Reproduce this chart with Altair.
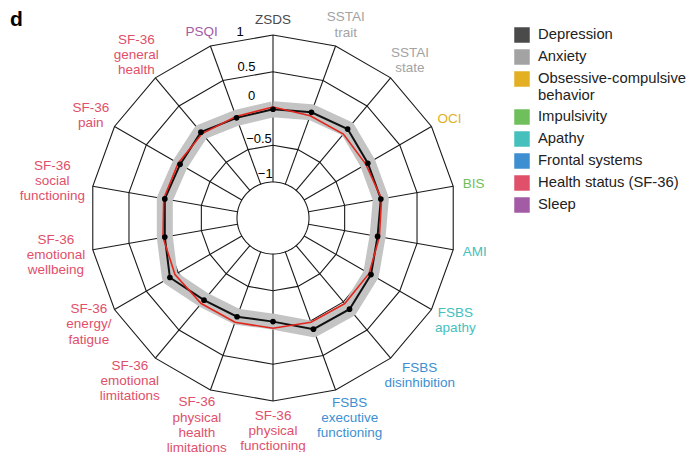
import math
import altair as alt
import pandas as pd

# ---------------- data ----------------
axis_labels = [
    "ZSDS", "SSTAI\ntrait", "SSTAI\nstate", "OCI", "BIS", "AMI",
    "FSBS\napathy", "FSBS\ndisinhibition", "FSBS\nexecutive\nfunctioning",
    "SF-36\nphysical\nfunctioning", "SF-36\nphysical\nhealth\nlimitations",
    "SF-36\nemotional\nlimitations", "SF-36\nenergy/\nfatigue",
    "SF-36\nemotional\nwellbeing", "SF-36\nsocial\nfunctioning",
    "SF-36\npain", "SF-36\ngeneral\nhealth", "PSQI",
]
axis_groups = [
    "Depression", "Anxiety", "Anxiety", "Obsessive-compulsive behavior",
    "Impulsivity", "Apathy", "Apathy", "Frontal systems", "Frontal systems",
    "Health status (SF-36)", "Health status (SF-36)", "Health status (SF-36)",
    "Health status (SF-36)", "Health status (SF-36)", "Health status (SF-36)",
    "Health status (SF-36)", "Health status (SF-36)", "Sleep",
]
black_values = [-0.01, 0.04, 0.09, 0.0, 0.0, -0.045, 0.05, 0.13, 0.12,
                -0.08, -0.06, -0.03, 0.13, 0.005, 0.005, -0.03, 0.035, -0.04]
red_values = [0.02, -0.01, 0.0, -0.03, 0.01, -0.02, 0.02, 0.03, 0.02,
              0.01, 0.02, 0.03, 0.05, 0.03, 0.02, 0.0, 0.01, -0.02]
grid_values = [-1, -0.5, 0, 0.5, 1]
tick_labels = ["\u22121", "\u22120.5", "0", "0.5", "1"]
group_names = ["Depression", "Anxiety", "Obsessive-compulsive behavior",
               "Impulsivity", "Apathy", "Frontal systems",
               "Health status (SF-36)", "Sleep"]
group_colors = ["#4a4a4a", "#a3a3a3", "#e3b023", "#6fbf5c", "#45c0bd",
                "#3d8fd1", "#e0506a", "#a35ba6"]

# ---------------- geometry helpers ----------------
R_PX = 183.0      # outer ring radius in pixels (data unit = 1)
HOLE_PX = 36.0    # radius of the central hole (value -1)
N = len(axis_labels)
LBL_FS = 13.5
LBL_LH = 15.3


def radius(v):
    h = HOLE_PX / R_PX
    return h + (v - grid_values[0]) / (grid_values[-1] - grid_values[0]) * (1 - h)


def angle(i):
    return 2 * math.pi * i / N


def xy(r, a):
    return r * math.sin(a), r * math.cos(a)


def text_w(s, fs):
    w = 0
    for c in s:
        if c in "il.,'-/ jtfr":
            w += 0.3
        elif c in "mwMW":
            w += 0.85
        elif c.isupper() or c.isdigit():
            w += 0.68
        else:
            w += 0.55
    return w * fs


# grid rings (polygons) and central circle
ring_rows = []
for v in grid_values:
    if v == grid_values[0]:
        m = 120
        for k in range(m + 1):
            x, y = xy(radius(v), 2 * math.pi * k / m)
            ring_rows.append({"ring": str(v), "k": k, "x": x, "y": y})
    else:
        for k in range(N + 1):
            x, y = xy(radius(v), angle(k % N))
            ring_rows.append({"ring": str(v), "k": k, "x": x, "y": y})
rings = pd.DataFrame(ring_rows)

spoke_rows = []
for i in range(N):
    x1, y1 = xy(radius(grid_values[0]), angle(i))
    x2, y2 = xy(radius(grid_values[-1]), angle(i))
    spoke_rows.append({"x": x1, "y": y1, "x2": x2, "y2": y2})
spokes = pd.DataFrame(spoke_rows)


def series_frame(vals):
    rows = []
    for k in range(N + 1):
        i = k % N
        x, y = xy(radius(vals[i]), angle(i))
        rows.append({"k": k, "x": x, "y": y, "axis": axis_labels[i].replace("\n", " "), "value": vals[i]})
    return pd.DataFrame(rows)


black_df = series_frame(black_values)
red_df = series_frame(red_values)
pts_df = black_df[black_df["k"] < N]

# radial tick labels, placed between the top spoke and the previous one
tick_rows = []
a_tick = -math.pi / N
for v, t in zip(grid_values, tick_labels):
    off = (16 if v == 0 else 9) / R_PX
    x, y = xy(radius(v) * math.cos(math.pi / N) + off, a_tick)
    tick_rows.append({"x": x, "y": y, "t": t})
ticks = pd.DataFrame(tick_rows)

# category labels around the outside (block centred, first line anchored)
lab_rows = []
R0 = 190.0
for i, (lab, g) in enumerate(zip(axis_labels, axis_groups)):
    lines = lab.split("\n")
    w = max(text_w(s, LBL_FS) for s in lines)
    h = len(lines) * LBL_LH
    a = angle(i)
    cx = (R0 + w / 2) * math.sin(a)
    cy = (R0 + h / 2) * math.cos(a) + (len(lines) - 1) * LBL_LH / 2
    lab_rows.append({"x": cx / R_PX, "y": cy / R_PX, "label": lab, "group": g})
labels = pd.DataFrame(lab_rows)

# ---------------- chart ----------------
xs = alt.Scale(domain=[-1, 1], nice=False, zero=False)
ys = alt.Scale(domain=[-1, 1], nice=False, zero=False)
X = alt.X("x:Q", scale=xs, axis=None)
Y = alt.Y("y:Q", scale=ys, axis=None)

ring_layer = alt.Chart(rings).mark_line(color="#1a1a1a", strokeWidth=1.1).encode(
    x=X, y=Y, detail="ring:N", order="k:Q")
spoke_layer = alt.Chart(spokes).mark_rule(color="#1a1a1a", strokeWidth=1.1).encode(
    x=X, y=Y, x2="x2:Q", y2="y2:Q")
band_layer = alt.Chart(black_df).mark_line(color="#c4c4c4", strokeWidth=16, strokeJoin="round").encode(
    x=X, y=Y, order="k:Q")
black_layer = alt.Chart(black_df).mark_line(color="#111111", strokeWidth=2).encode(
    x=X, y=Y, order="k:Q")
red_layer = alt.Chart(red_df).mark_line(color="#e3261c", strokeWidth=1.6).encode(
    x=X, y=Y, order="k:Q")
pt_layer = alt.Chart(pts_df).mark_point(filled=True, color="#000000", size=32, opacity=1).encode(
    x=X, y=Y, tooltip=["axis:N", "value:Q"])
tick_layer = alt.Chart(ticks).mark_text(fontSize=13, color="#000000", align="center", baseline="middle").encode(
    x=X, y=Y, text="t:N")
label_layer = alt.Chart(labels).mark_text(
    fontSize=LBL_FS, lineHeight=LBL_LH, lineBreak="\n", align="center", baseline="middle"
).encode(
    x=X, y=Y, text="label:N",
    color=alt.Color(
        "group:N",
        scale=alt.Scale(domain=group_names, range=group_colors),
        legend=alt.Legend(
            title=None, orient="none", legendX=424, legendY=-8,
            symbolType="square", symbolSize=240, symbolStrokeWidth=0,
            symbolOpacity=1, labelFontSize=14.8, labelColor="#222222",
            labelOffset=8, rowPadding=6, labelLimit=300,
            labelExpr="datum.label == 'Obsessive-compulsive behavior' ? ['Obsessive-compulsive', 'behavior'] : datum.label",
        ),
    ),
)
panel_layer = alt.Chart(pd.DataFrame({"t": ["d"]})).mark_text(
    fontSize=21, fontWeight="bold", align="left", baseline="alphabetic", color="#000000"
).encode(x=alt.value(-80), y=alt.value(-9), text="t:N")

chart = alt.layer(
    ring_layer, spoke_layer, band_layer, black_layer, red_layer, pt_layer,
    tick_layer, label_layer, panel_layer,
).properties(
    width=366, height=366,
    autosize=alt.AutoSizeParams(type="none"),
    padding={"left": 82, "top": 27, "right": 236, "bottom": 60},
).configure(font="Liberation Sans").configure_view(stroke=None)

chart.save("out.html", embed_options={"renderer": "svg", "actions": False})
